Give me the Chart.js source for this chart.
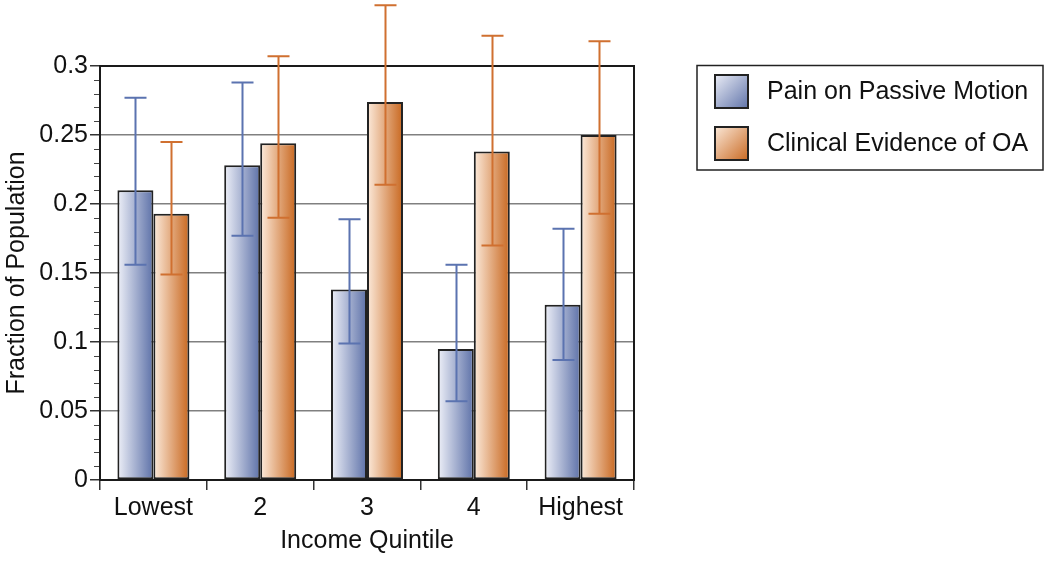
<!DOCTYPE html>
<html>
<head>
<meta charset="utf-8">
<script src="https://cdn.jsdelivr.net/npm/chart.js@4"></script>
<style>
html,body{margin:0;padding:0;background:#fff;}
#wrap{width:1050px;height:561px;position:relative;}
</style>
</head>
<body>
<div id="wrap"><canvas id="c" width="1050" height="561"></canvas></div>
<script>
const categories = ['Lowest', '2', '3', '4', 'Highest'];
const seriesNames = ['Pain on Passive Motion', 'Clinical Evidence of OA'];
const painValues = [0.210, 0.228, 0.138, 0.095, 0.127];
const painLow    = [0.156, 0.177, 0.099, 0.057, 0.087];
const painHigh   = [0.277, 0.288, 0.189, 0.156, 0.182];
const oaValues   = [0.193, 0.244, 0.274, 0.238, 0.250];
const oaLow      = [0.149, 0.190, 0.214, 0.170, 0.193];
const oaHigh     = [0.245, 0.307, 0.344, 0.322, 0.318];
const yTicks     = [0, 0.05, 0.1, 0.15, 0.2, 0.25, 0.3];
const yTickLabels = ['0', '0.05', '0.1', '0.15', '0.2', '0.25', '0.3'];
const xTitle = 'Income Quintile';
const yTitle = 'Fraction of Population';

const FONT = "'Liberation Sans', Arial, sans-serif";
const FS = 25;
const CAT_PCT = 0.674;
const palette = [
  {light: '#eef0f8', dark: '#5d71a8', err: '#5b73b0'},
  {light: '#fcebdc', dark: '#c8671f', err: '#d07030'}
];

function barGradient(ctx) {
  const chart = ctx.chart;
  const xs = chart.scales.x;
  const p = palette[ctx.datasetIndex];
  if (!xs || ctx.dataIndex === undefined || !isFinite(xs.width) || xs.width <= 0) return p.dark;
  const cw = xs.width / categories.length;
  const bw = cw * CAT_PCT / 2;
  const c = xs.getPixelForValue(ctx.dataIndex);
  const left = ctx.datasetIndex === 0 ? c - bw : c;
  const g = chart.ctx.createLinearGradient(left, 0, left + bw, 0);
  g.addColorStop(0, p.light);
  g.addColorStop(1, p.dark);
  return g;
}

const errorBars = {
  id: 'errorBars',
  afterDatasetsDraw(chart) {
    const ctx = chart.ctx;
    const y = chart.scales.y;
    const lows = [painLow, oaLow];
    const highs = [painHigh, oaHigh];
    ctx.save();
    chart.data.datasets.forEach((ds, di) => {
      const meta = chart.getDatasetMeta(di);
      meta.data.forEach((el, i) => {
        const x = Math.round(el.x) + 0.5;
        const y1 = y.getPixelForValue(lows[di][i]);
        const y2 = y.getPixelForValue(highs[di][i]);
        ctx.strokeStyle = palette[di].err;
        ctx.lineWidth = 2;
        ctx.beginPath();
        ctx.moveTo(x, y1); ctx.lineTo(x, y2);
        ctx.moveTo(x - 11, y1); ctx.lineTo(x + 11, y1);
        ctx.moveTo(x - 11, y2); ctx.lineTo(x + 11, y2);
        ctx.stroke();
      });
    });
    ctx.restore();
  }
};

const frame = {
  id: 'frame',
  beforeDatasetsDraw(chart) {
    const ctx = chart.ctx;
    const a = chart.chartArea;
    const y = chart.scales.y;
    ctx.save();
    ctx.strokeStyle = '#444';
    ctx.lineWidth = 1;
    for (let k = 1; k < 30; k++) {
      if (k % 5 === 0) continue;
      const py = Math.round(y.getPixelForValue(k / 100)) + 0.5;
      ctx.beginPath();
      ctx.moveTo(a.left - 6, py); ctx.lineTo(a.left, py);
      ctx.stroke();
    }
    ctx.restore();
  },
  afterDatasetsDraw(chart) {
    const ctx = chart.ctx;
    const a = chart.chartArea;
    ctx.save();
    ctx.strokeStyle = '#1a1a1a';
    ctx.lineWidth = 2;
    ctx.strokeRect(a.left, a.top, a.right - a.left, a.bottom - a.top);
    ctx.restore();
  }
};

const boxLegend = {
  id: 'boxLegend',
  afterDraw(chart) {
    const ctx = chart.ctx;
    ctx.save();
    ctx.strokeStyle = '#222';
    ctx.lineWidth = 1.5;
    ctx.strokeRect(697, 65.5, 346, 104.5);
    const tops = [74, 126];
    chart.data.datasets.forEach((ds, di) => {
      const x0 = 714, y0 = tops[di], s = 35;
      const g = ctx.createLinearGradient(x0, y0, x0 + s, y0 + s);
      g.addColorStop(0, palette[di].light);
      g.addColorStop(1, palette[di].dark);
      ctx.fillStyle = g;
      ctx.fillRect(x0, y0, s, s);
      ctx.strokeStyle = '#222';
      ctx.lineWidth = 2;
      ctx.strokeRect(x0 + 1, y0 + 1, s - 2, s - 2);
      ctx.fillStyle = '#111';
      ctx.font = FS + 'px ' + FONT;
      ctx.textBaseline = 'middle';
      ctx.textAlign = 'left';
      ctx.fillText(ds.label, 767, y0 + s / 2 + 1);
    });
    ctx.restore();
  }
};

new Chart(document.getElementById('c'), {
  type: 'bar',
  data: {
    labels: categories,
    datasets: [
      {label: seriesNames[0], data: painValues, backgroundColor: barGradient, borderColor: '#222', borderWidth: 2, borderSkipped: false},
      {label: seriesNames[1], data: oaValues, backgroundColor: barGradient, borderColor: '#222', borderWidth: 2, borderSkipped: false}
    ]
  },
  options: {
    responsive: false,
    animation: false,
    events: [],
    layout: {padding: {left: 0, top: 66, right: 416, bottom: 0}},
    datasets: {bar: {categoryPercentage: CAT_PCT, barPercentage: 1.0}},
    plugins: {legend: {display: false}, tooltip: {enabled: false}},
    scales: {
      x: {
        grid: {drawOnChartArea: false, offset: true, tickLength: 10, color: '#333', tickColor: '#333', lineWidth: 1.5},
        border: {color: '#1a1a1a', width: 2},
        ticks: {color: '#111', font: {family: FONT, size: FS}, padding: 3, maxRotation: 0},
        title: {display: true, text: xTitle, color: '#111', font: {family: FONT, size: FS}, padding: {top: 0, bottom: 5}},
        afterFit(s) { s.height = 81; }
      },
      y: {
        min: 0, max: 0.3,
        afterBuildTicks(s) { s.ticks = yTicks.map(v => ({value: v})); },
        grid: {color: '#808080', lineWidth: 1.5, tickLength: 10, tickColor: '#333'},
        border: {color: '#1a1a1a', width: 2},
        ticks: {color: '#111', font: {family: FONT, size: FS}, padding: 2,
          callback(v) { const i = yTicks.indexOf(v); return i >= 0 ? yTickLabels[i] : ''; }},
        title: {display: true, text: yTitle, color: '#111', font: {family: FONT, size: FS}, padding: {top: 2, bottom: 0}},
        afterFit(s) { s.width = 100; }
      }
    }
  },
  plugins: [frame, errorBars, boxLegend]
});
</script>
</body>
</html>
